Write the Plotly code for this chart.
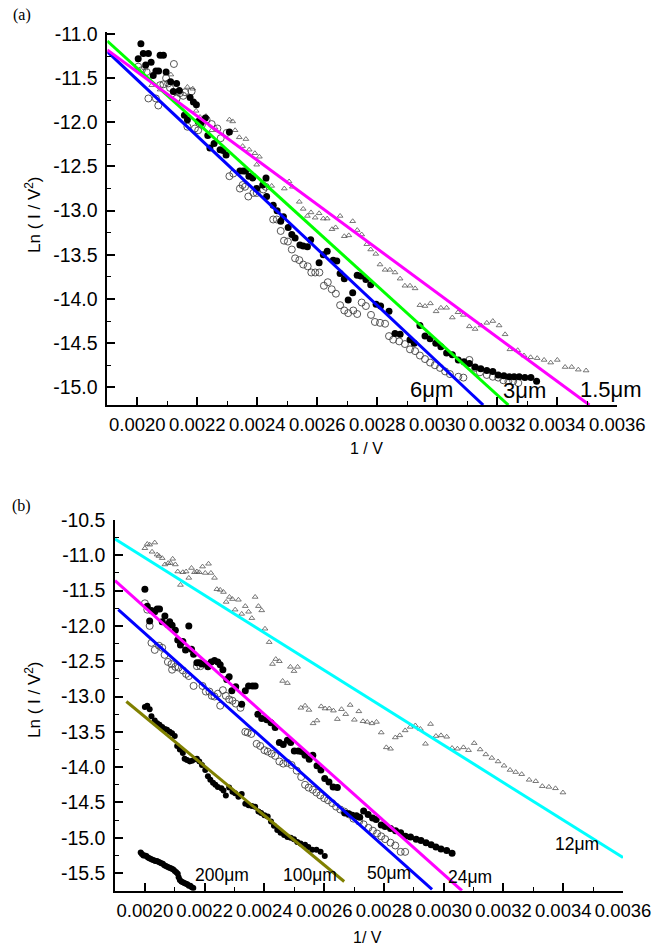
import plotly.graph_objects as go

# ---------------- Panel (a) data ----------------
a_filled_x = [0.002003,0.002012,0.002020,0.002028,0.002037,0.002046,0.002053,0.002062,0.002071,0.002076,
              0.002087,0.002096,0.002111,0.002120,0.002131,0.002140,0.002157,0.002167,0.002176,0.002187,
              0.002197,0.002203,0.002212,0.002227,0.002235,0.002242,0.002256,0.002276,0.002286,0.002296,
              0.002307,0.002342,0.002353,0.002361,0.002372,0.002385,0.002398,0.002418,0.002429,0.002431,
              0.002453,0.002466,0.002478,0.002487,0.002503,0.002515,0.002526,0.002542,0.002553,0.002567,
              0.002578,0.002606,0.002620,0.002633,0.002653,0.002665,0.002676,0.002690,0.002703,0.002718,
              0.002733,0.002745,0.002762,0.002778,0.002796,0.002811,0.002839,0.002859,0.002876,0.002909,
              0.002923,0.002942,0.002959,0.002976,0.002995,0.003012,0.003031,0.003050,0.003070,0.003089,
              0.003107,0.003126,0.003145,0.003165,0.003185,0.003203,0.003222,0.003240,0.003256,0.003273,
              0.003292,0.003312,0.003331]
a_filled_y = [-11.28,-11.11,-11.22,-11.35,-11.22,-11.32,-11.47,-11.42,-11.42,-11.24,
              -11.24,-11.43,-11.54,-11.65,-11.56,-11.64,-11.92,-11.97,-11.72,-11.77,
              -11.80,-11.99,-12.01,-11.95,-12.15,-12.29,-12.24,-12.31,-12.32,-12.37,
              -12.11,-12.55,-12.55,-12.55,-12.61,-12.63,-12.75,-12.71,-12.63,-12.84,
              -12.94,-13.00,-13.12,-13.07,-13.19,-13.27,-13.31,-13.39,-13.40,-13.41,
              -13.33,-13.59,-13.50,-13.46,-13.56,-13.57,-13.71,-13.77,-14.01,-13.93,
              -13.73,-13.74,-13.78,-13.84,-14.06,-14.08,-14.14,-14.39,-14.40,-14.46,
              -14.50,-14.30,-14.42,-14.45,-14.50,-14.54,-14.61,-14.63,-14.69,-14.71,
              -14.73,-14.77,-14.79,-14.81,-14.82,-14.86,-14.87,-14.88,-14.88,-14.88,
              -14.89,-14.89,-14.93]

a_open_x = [0.002003,0.002015,0.002031,0.002037,0.002062,0.002070,0.002076,0.002087,0.002096,0.002103,
            0.002109,0.002122,0.002131,0.002142,0.002153,0.002159,0.002167,0.002181,0.002192,0.002203,
            0.002215,0.002231,0.002248,0.002267,0.002278,0.002298,0.002307,0.002320,0.002342,0.002351,
            0.002359,0.002370,0.002387,0.002398,0.002420,0.002428,0.002453,0.002465,0.002478,0.002489,
            0.002502,0.002515,0.002526,0.002540,0.002553,0.002568,0.002580,0.002593,0.002607,0.002622,
            0.002635,0.002648,0.002662,0.002676,0.002690,0.002703,0.002720,0.002733,0.002748,0.002762,
            0.002779,0.002792,0.002809,0.002826,0.002839,0.002853,0.002873,0.002892,0.002909,0.002926,
            0.002942,0.002959,0.002976,0.002992,0.003009,0.003026,0.003042,0.003070,0.003087,0.003107,
            0.003126,0.003142,0.003165,0.003185,0.003203,0.003220,0.003237,0.003253,0.003270]
a_open_y = [-11.37,-11.41,-11.43,-11.73,-11.73,-11.81,-11.58,-11.57,-11.50,-11.56,
            -11.61,-11.34,-11.73,-11.67,-11.70,-11.66,-12.05,-11.65,-12.07,-12.09,
            -12.03,-11.97,-12.02,-12.07,-12.18,-12.12,-12.61,-12.58,-12.75,-12.71,
            -12.73,-12.84,-12.80,-12.80,-12.76,-12.73,-13.10,-13.10,-13.23,-13.34,
            -13.35,-13.44,-13.54,-13.56,-13.61,-13.63,-13.70,-13.70,-13.70,-13.85,
            -13.81,-13.89,-13.94,-14.07,-14.13,-14.16,-14.13,-14.17,-14.04,-14.08,
            -14.18,-14.26,-14.27,-14.28,-14.42,-14.46,-14.48,-14.51,-14.57,-14.59,
            -14.64,-14.68,-14.72,-14.75,-14.78,-14.82,-14.85,-14.88,-14.89,-14.69,
            -14.78,-14.83,-14.86,-14.88,-14.89,-14.92,-14.93,-14.93,-14.95]

a_tri_x = [0.002026,0.002048,0.002076,0.002112,0.002131,0.002167,0.002185,0.002196,0.002209,0.002229,
           0.002248,0.002259,0.002307,0.002318,0.002326,0.002340,0.002351,0.002362,0.002373,0.002392,
           0.002398,0.002407,0.002428,0.002448,0.002490,0.002506,0.002517,0.002540,0.002553,0.002567,
           0.002579,0.002593,0.002606,0.002620,0.002633,0.002649,0.002661,0.002676,0.002690,0.002705,
           0.002718,0.002733,0.002748,0.002765,0.002778,0.002795,0.002809,0.002826,0.002842,0.002859,
           0.002876,0.002892,0.002909,0.002926,0.002942,0.002959,0.002977,0.002996,0.003012,0.003031,
           0.003050,0.003069,0.003087,0.003107,0.003126,0.003146,0.003165,0.003185,0.003206,0.003226,
           0.003242,0.003268,0.003289,0.003311,0.003333,0.003356,0.003378,0.003400,0.003426,0.003448,
           0.003470,0.003496]
a_tri_y = [-11.39,-11.58,-11.63,-11.46,-11.67,-11.60,-11.62,-11.87,-11.94,-11.93,
           -12.09,-12.06,-11.97,-11.99,-12.09,-12.17,-12.27,-12.19,-12.31,-12.35,
           -12.48,-12.39,-12.65,-12.72,-12.75,-12.67,-12.73,-12.90,-12.98,-13.06,
           -13.02,-13.08,-13.03,-13.09,-13.09,-13.21,-13.19,-13.06,-13.29,-13.28,
           -13.12,-13.22,-13.27,-13.38,-13.44,-13.49,-13.61,-13.67,-13.67,-13.70,
           -13.77,-13.85,-13.85,-13.88,-14.07,-14.08,-14.05,-14.14,-14.10,-14.10,
           -14.21,-14.15,-14.18,-14.31,-14.34,-14.30,-14.27,-14.25,-14.30,-14.40,
           -14.57,-14.58,-14.64,-14.66,-14.67,-14.69,-14.72,-14.69,-14.77,-14.77,
           -14.80,-14.81]

# fitted lines (a): start / end points
a_fit_names = ["6μm", "3μm", "1.5μm"]
a_fit_x = [[0.001900, 0.003153], [0.001900, 0.003237], [0.001900, 0.003507]]
a_fit_y = [[-11.20, -15.20], [-11.08, -15.20], [-11.18, -15.20]]

a_xticks = [0.0020, 0.0022, 0.0024, 0.0026, 0.0028, 0.0030, 0.0032, 0.0034, 0.0036]
a_xtick_text = ["0.0020", "0.0022", "0.0024", "0.0026", "0.0028", "0.0030", "0.0032", "0.0034", "0.0036"]
a_yticks = [-11.0, -11.5, -12.0, -12.5, -13.0, -13.5, -14.0, -14.5, -15.0]
a_ytick_text = ["-11.0", "-11.5", "-12.0", "-12.5", "-13.0", "-13.5", "-14.0", "-14.5", "-15.0"]

# ---------------- Panel (b) data ----------------
b12_x = [0.002000,0.002008,0.002016,0.002024,0.002033,0.002041,0.002047,0.002058,0.002067,0.002078,
         0.002086,0.002093,0.002102,0.002110,0.002119,0.002127,0.002138,0.002147,0.002156,0.002166,
         0.002174,0.002182,0.002193,0.002202,0.002213,0.002221,0.002233,0.002241,0.002252,0.002263,
         0.002272,0.002283,0.002293,0.002302,0.002313,0.002324,0.002336,0.002347,0.002358,0.002369,
         0.002380,0.002391,0.002402,0.002416,0.002427,0.002438,0.002450,0.002461,0.002477,0.002487,
         0.002499,0.002511,0.002522,0.002536,0.002549,0.002563,0.002576,0.002590,0.002603,0.002617,
         0.002631,0.002644,0.002658,0.002672,0.002687,0.002701,0.002716,0.002730,0.002744,0.002760,
         0.002775,0.002791,0.002808,0.002822,0.002838,0.002853,0.002871,0.002888,0.002905,0.002922,
         0.002939,0.002956,0.002974,0.002991,0.003010,0.003028,0.003046,0.003066,0.003083,0.003102,
         0.003122,0.003141,0.003161,0.003182,0.003202,0.003222,0.003241,0.003261,0.003286,0.003308,
         0.003330,0.003352,0.003374,0.003399]
b12_y = [-10.90,-10.84,-10.85,-10.95,-10.82,-10.99,-11.01,-11.04,-11.13,-11.11,
         -11.11,-11.05,-11.13,-11.23,-11.42,-11.24,-11.23,-11.32,-11.18,-11.24,
         -11.23,-11.24,-11.16,-11.25,-11.12,-11.25,-11.32,-11.48,-11.49,-11.52,
         -11.66,-11.59,-11.62,-11.77,-11.63,-11.83,-11.72,-11.80,-11.89,-11.59,
         -11.72,-11.78,-12.04,-12.23,-12.54,-12.47,-12.50,-12.78,-12.81,-12.58,
         -12.64,-12.58,-13.16,-13.13,-13.19,-13.38,-13.34,-13.14,-13.17,-13.17,
         -13.20,-13.32,-13.18,-13.25,-13.12,-13.33,-13.21,-13.35,-13.36,-13.38,
         -13.36,-13.51,-13.72,-13.74,-13.58,-13.55,-13.48,-13.43,-13.41,-13.46,
         -13.67,-13.39,-13.56,-13.55,-13.57,-13.73,-13.74,-13.72,-13.76,-13.66,
         -13.75,-13.82,-13.87,-13.92,-13.98,-14.04,-14.07,-14.10,-14.18,-14.20,
         -14.27,-14.28,-14.30,-14.36]

b24_x = [0.002000,0.002008,0.002016,0.002022,0.002033,0.002041,0.002049,0.002058,0.002067,0.002076,
         0.002083,0.002091,0.002102,0.002110,0.002119,0.002127,0.002136,0.002147,0.002156,0.002163,
         0.002174,0.002182,0.002191,0.002202,0.002211,0.002222,0.002233,0.002244,0.002252,0.002261,
         0.002274,0.002282,0.002291,0.002304,0.002324,0.002336,0.002347,0.002360,0.002369,0.002378,
         0.002391,0.002408,0.002422,0.002436,0.002450,0.002463,0.002477,0.002488,0.002500,0.002513,
         0.002524,0.002536,0.002550,0.002562,0.002576,0.002589,0.002602,0.002616,0.002630,0.002644,
         0.002669,0.002682,0.002694,0.002708,0.002719,0.002732,0.002747,0.002762,0.002774,0.002791,
         0.002804,0.002822,0.002839,0.002856,0.002872,0.002889,0.002908,0.002924,0.002941,0.002958,
         0.002974,0.002991,0.003010,0.003028]
b24_y = [-11.48,-11.72,-11.93,-11.78,-11.80,-11.76,-11.76,-11.94,-11.86,-11.98,
         -11.94,-11.99,-12.06,-12.20,-12.27,-12.22,-12.34,-12.00,-12.33,-12.40,
         -12.52,-12.52,-12.54,-12.54,-12.58,-12.51,-12.49,-12.51,-12.55,-12.62,
         -12.76,-12.72,-12.92,-12.86,-13.11,-12.92,-12.85,-12.85,-12.85,-13.25,
         -13.31,-13.33,-13.37,-13.44,-13.65,-13.68,-13.62,-13.65,-13.77,-13.77,
         -13.78,-13.83,-13.89,-13.83,-13.98,-14.04,-14.16,-14.21,-14.28,-14.29,
         -14.65,-14.66,-14.68,-14.69,-14.71,-14.62,-14.67,-14.72,-14.74,-14.82,
         -14.84,-14.87,-14.90,-14.93,-14.98,-14.99,-15.02,-15.04,-15.07,-15.10,
         -15.13,-15.16,-15.18,-15.22]

b50_x = [0.002000,0.002008,0.002016,0.002022,0.002033,0.002047,0.002058,0.002066,0.002077,0.002089,
         0.002091,0.002102,0.002113,0.002127,0.002138,0.002147,0.002163,0.002174,0.002186,0.002193,
         0.002204,0.002216,0.002224,0.002233,0.002244,0.002252,0.002261,0.002271,0.002282,0.002293,
         0.002304,0.002320,0.002336,0.002344,0.002356,0.002374,0.002386,0.002400,0.002411,0.002424,
         0.002436,0.002450,0.002463,0.002477,0.002491,0.002508,0.002523,0.002536,0.002548,0.002562,
         0.002574,0.002587,0.002600,0.002613,0.002627,0.002640,0.002654,0.002668,0.002683,0.002698,
         0.002717,0.002732,0.002748,0.002763,0.002777,0.002791,0.002804,0.002822,0.002838,0.002856,
         0.002871]
b50_y = [-11.68,-11.77,-12.00,-12.24,-12.34,-12.28,-12.31,-12.41,-12.51,-12.54,
         -12.62,-12.58,-12.59,-12.63,-12.68,-12.71,-12.85,-12.57,-12.57,-12.85,
         -12.93,-12.93,-12.99,-13.00,-12.96,-13.13,-12.91,-12.99,-13.04,-13.06,
         -13.10,-13.16,-13.50,-13.51,-13.53,-13.67,-13.70,-13.76,-13.78,-13.81,
         -13.84,-13.92,-13.95,-13.94,-13.97,-14.05,-14.14,-14.25,-14.29,-14.32,
         -14.36,-14.40,-14.44,-14.47,-14.51,-14.56,-14.60,-14.63,-14.67,-14.73,
         -14.77,-14.81,-14.86,-14.90,-14.94,-14.98,-15.02,-15.07,-15.11,-15.20,
         -15.20]

b100_x = [0.002000,0.002008,0.002016,0.002022,0.002033,0.002041,0.002049,0.002058,0.002067,0.002074,
          0.002083,0.002091,0.002100,0.002108,0.002117,0.002127,0.002133,0.002141,0.002150,0.002158,
          0.002167,0.002174,0.002182,0.002191,0.002202,0.002211,0.002219,0.002228,0.002236,0.002244,
          0.002256,0.002263,0.002271,0.002282,0.002293,0.002302,0.002313,0.002324,0.002336,0.002347,
          0.002358,0.002369,0.002380,0.002389,0.002400,0.002411,0.002422,0.002432,0.002443,0.002454,
          0.002466,0.002477,0.002488,0.002499,0.002510,0.002521,0.002536,0.002547,0.002560,0.002574,
          0.002588,0.002602]
b100_y = [-13.15,-13.13,-13.18,-13.28,-13.34,-13.38,-13.40,-13.43,-13.46,-13.47,
          -13.50,-13.52,-13.56,-13.70,-13.75,-13.80,-13.88,-13.90,-13.92,-13.91,
          -13.89,-13.88,-13.92,-13.97,-14.04,-14.13,-14.18,-14.22,-14.25,-14.28,
          -14.30,-14.33,-14.40,-14.29,-14.35,-14.37,-14.42,-14.38,-14.52,-14.54,
          -14.55,-14.56,-14.63,-14.65,-14.68,-14.70,-14.77,-14.83,-14.89,-14.93,
          -14.96,-14.99,-15.00,-15.02,-15.06,-15.08,-15.10,-15.13,-15.17,-15.17,
          -15.20,-15.26]

b200_x = [0.001986,0.001990,0.001995,0.002000,0.002005,0.002010,0.002015,0.002020,0.002025,0.002030,
          0.002035,0.002040,0.002045,0.002050,0.002055,0.002060,0.002065,0.002070,0.002075,0.002080,
          0.002085,0.002090,0.002095,0.002100,0.002105,0.002110,0.002113,0.002117,0.002122,0.002127,
          0.002132,0.002137,0.002142,0.002147,0.002152,0.002157,0.002162]
b200_y = [-15.21,-15.23,-15.25,-15.25,-15.26,-15.28,-15.29,-15.30,-15.31,-15.32,
          -15.33,-15.33,-15.34,-15.35,-15.36,-15.37,-15.39,-15.40,-15.41,-15.42,
          -15.43,-15.44,-15.45,-15.47,-15.49,-15.51,-15.56,-15.60,-15.62,-15.63,
          -15.64,-15.65,-15.66,-15.68,-15.68,-15.70,-15.71]

# fitted lines (b): 12, 24, 50, 100 um
b_fit_names = ["12μm", "24μm", "50μm", "100μm"]
b_fit_x = [[0.001900, 0.003600], [0.001900, 0.003061], [0.001911, 0.002961], [0.001938, 0.002667]]
b_fit_y = [[-10.77, -15.28], [-11.36, -15.75], [-11.77, -15.73], [-13.07, -15.62]]

b_xticks = a_xticks
b_xtick_text = a_xtick_text
b_yticks = [-10.5, -11.0, -11.5, -12.0, -12.5, -13.0, -13.5, -14.0, -14.5, -15.0, -15.5]
b_ytick_text = ["-10.5", "-11.0", "-11.5", "-12.0", "-12.5", "-13.0", "-13.5", "-14.0", "-14.5", "-15.0", "-15.5"]

# ---------------- Figure ----------------
FONT = "Liberation Sans, Arial, Helvetica, sans-serif"
SERIF = "Liberation Serif, Times New Roman, serif"
fig = go.Figure()

def filled(x, y, xa, ya, size=7):
    fig.add_trace(go.Scatter(x=x, y=y, mode="markers", xaxis=xa, yaxis=ya, hoverinfo="skip",
                             marker=dict(symbol="circle", size=size, color="black", line=dict(width=0))))

def opencirc(x, y, xa, ya):
    fig.add_trace(go.Scatter(x=x, y=y, mode="markers", xaxis=xa, yaxis=ya, hoverinfo="skip",
                             marker=dict(symbol="circle-open", size=7, color="#444444", line=dict(width=0.9))))

def tri(x, y, xa, ya):
    fig.add_trace(go.Scatter(x=x, y=y, mode="markers", xaxis=xa, yaxis=ya, hoverinfo="skip",
                             marker=dict(symbol="triangle-up-open", size=5, color="#555555", line=dict(width=0.8))))

# panel (a)
tri(a_tri_x, a_tri_y, "x", "y")
opencirc(a_open_x, a_open_y, "x", "y")
filled(a_filled_x, a_filled_y, "x", "y")
a_colors = ["#0000ff", "#00ff00", "#ff00ff"]
for xs, ys, c in zip(a_fit_x, a_fit_y, a_colors):
    fig.add_trace(go.Scatter(x=xs, y=ys, mode="lines", xaxis="x", yaxis="y", hoverinfo="skip",
                             line=dict(color=c, width=3)))

# panel (b)
tri(b12_x, b12_y, "x2", "y2")
opencirc(b50_x, b50_y, "x2", "y2")
filled(b24_x, b24_y, "x2", "y2", 7)
filled(b100_x, b100_y, "x2", "y2", 6)
filled(b200_x, b200_y, "x2", "y2", 6)
b_colors = ["#00ffff", "#ff00ff", "#0000ff", "#808000"]
for xs, ys, c in zip(b_fit_x, b_fit_y, b_colors):
    fig.add_trace(go.Scatter(x=xs, y=ys, mode="lines", xaxis="x2", yaxis="y2", hoverinfo="skip",
                             line=dict(color=c, width=3)))

X_TICK_FONT = dict(family=FONT, size=18.5, color="black")
Y_TICK_FONT = dict(family=FONT, size=19.5, color="black")

fig.update_layout(
    width=654, height=950, margin=dict(l=0, r=0, t=0, b=0, pad=0, autoexpand=False),
    paper_bgcolor="white", plot_bgcolor="white", showlegend=False,
    font=dict(family=FONT, size=17, color="black"),
    xaxis=dict(domain=[0.16407, 0.94388], range=[0.0019, 0.0036], anchor="y",
               tickvals=a_xticks, ticktext=a_xtick_text, tickfont=X_TICK_FONT, tickangle=0),
    yaxis=dict(domain=[0.57368, 0.96611], range=[-15.2, -10.98], anchor="x",
               tickvals=a_yticks, ticktext=a_ytick_text, tickfont=Y_TICK_FONT),
    xaxis2=dict(domain=[0.17584, 0.95260], range=[0.0019, 0.0036], anchor="y2",
                tickvals=b_xticks, ticktext=b_xtick_text, tickfont=X_TICK_FONT, tickangle=0),
    yaxis2=dict(domain=[0.06242, 0.45263], range=[-15.75, -10.5], anchor="x2",
                tickvals=b_yticks, ticktext=b_ytick_text, tickfont=Y_TICK_FONT),
)
common = dict(showline=True, linecolor="black", linewidth=1.5, showgrid=False, zeroline=False,
              ticks="inside", ticklen=8, tickwidth=1.5, tickcolor="black", mirror=False,
              automargin=False, ticklabeloverflow="allow")
fig.update_xaxes(**common, ticklabelstandoff=2,
                 minor=dict(ticks="inside", ticklen=4, tickwidth=1.2, tickcolor="black",
                            dtick=0.0001, tick0=0.0019))
fig.update_yaxes(**common, ticklabelstandoff=4)
fig.update_layout(
    yaxis_minor=dict(ticks="inside", ticklen=4, tickwidth=1.2, tickcolor="black", dtick=0.25, tick0=-11.0),
    yaxis2_minor=dict(ticks="inside", ticklen=4, tickwidth=1.2, tickcolor="black", dtick=0.25, tick0=-10.5),
)

def note(text, x, y, xref, yref, size, family=FONT, angle=0):
    return dict(text=text, x=x, y=y, xref=xref, yref=yref, showarrow=False, textangle=angle,
                xanchor="center", yanchor="middle", font=dict(family=family, size=size, color="black"))

ann = []
for txt, xx, yy in [("6μm", 0.002982, -15.02), ("3μm", 0.003289, -15.04), ("1.5μm", 0.003579, -15.02)]:
    ann.append(note(txt, xx, yy, "x", "y", 22))
for txt, xx, yy in [("200μm", 0.002257, -15.53), ("100μm", 0.002552, -15.53), ("50μm", 0.002817, -15.50),
                    ("24μm", 0.003088, -15.55), ("12μm", 0.003447, -15.09)]:
    ann.append(note(txt, xx, yy, "x2", "y2", 17.5))
ann.append(note("Ln ( I / V<sup>2</sup>)", 33/654, 1-215/950, "paper", "paper", 17, angle=-90))
ann.append(note("Ln ( I / V<sup>2</sup>)", 33/654, 1-700/950, "paper", "paper", 17, angle=-90))
ann.append(note("1 / V", 366/654, 1-448/950, "paper", "paper", 16))
ann.append(note("1/ V", 367/654, 1-937/950, "paper", "paper", 16))
ann.append(note("(a)", 22/654, 1-15/950, "paper", "paper", 16, family=SERIF))
ann.append(note("(b)", 22/654, 1-506/950, "paper", "paper", 16, family=SERIF))
fig.update_layout(annotations=ann)

fig.write_html("out.html", config={"displayModeBar": False},
               post_script="document.body.style.margin='0';document.body.style.padding='0';")
